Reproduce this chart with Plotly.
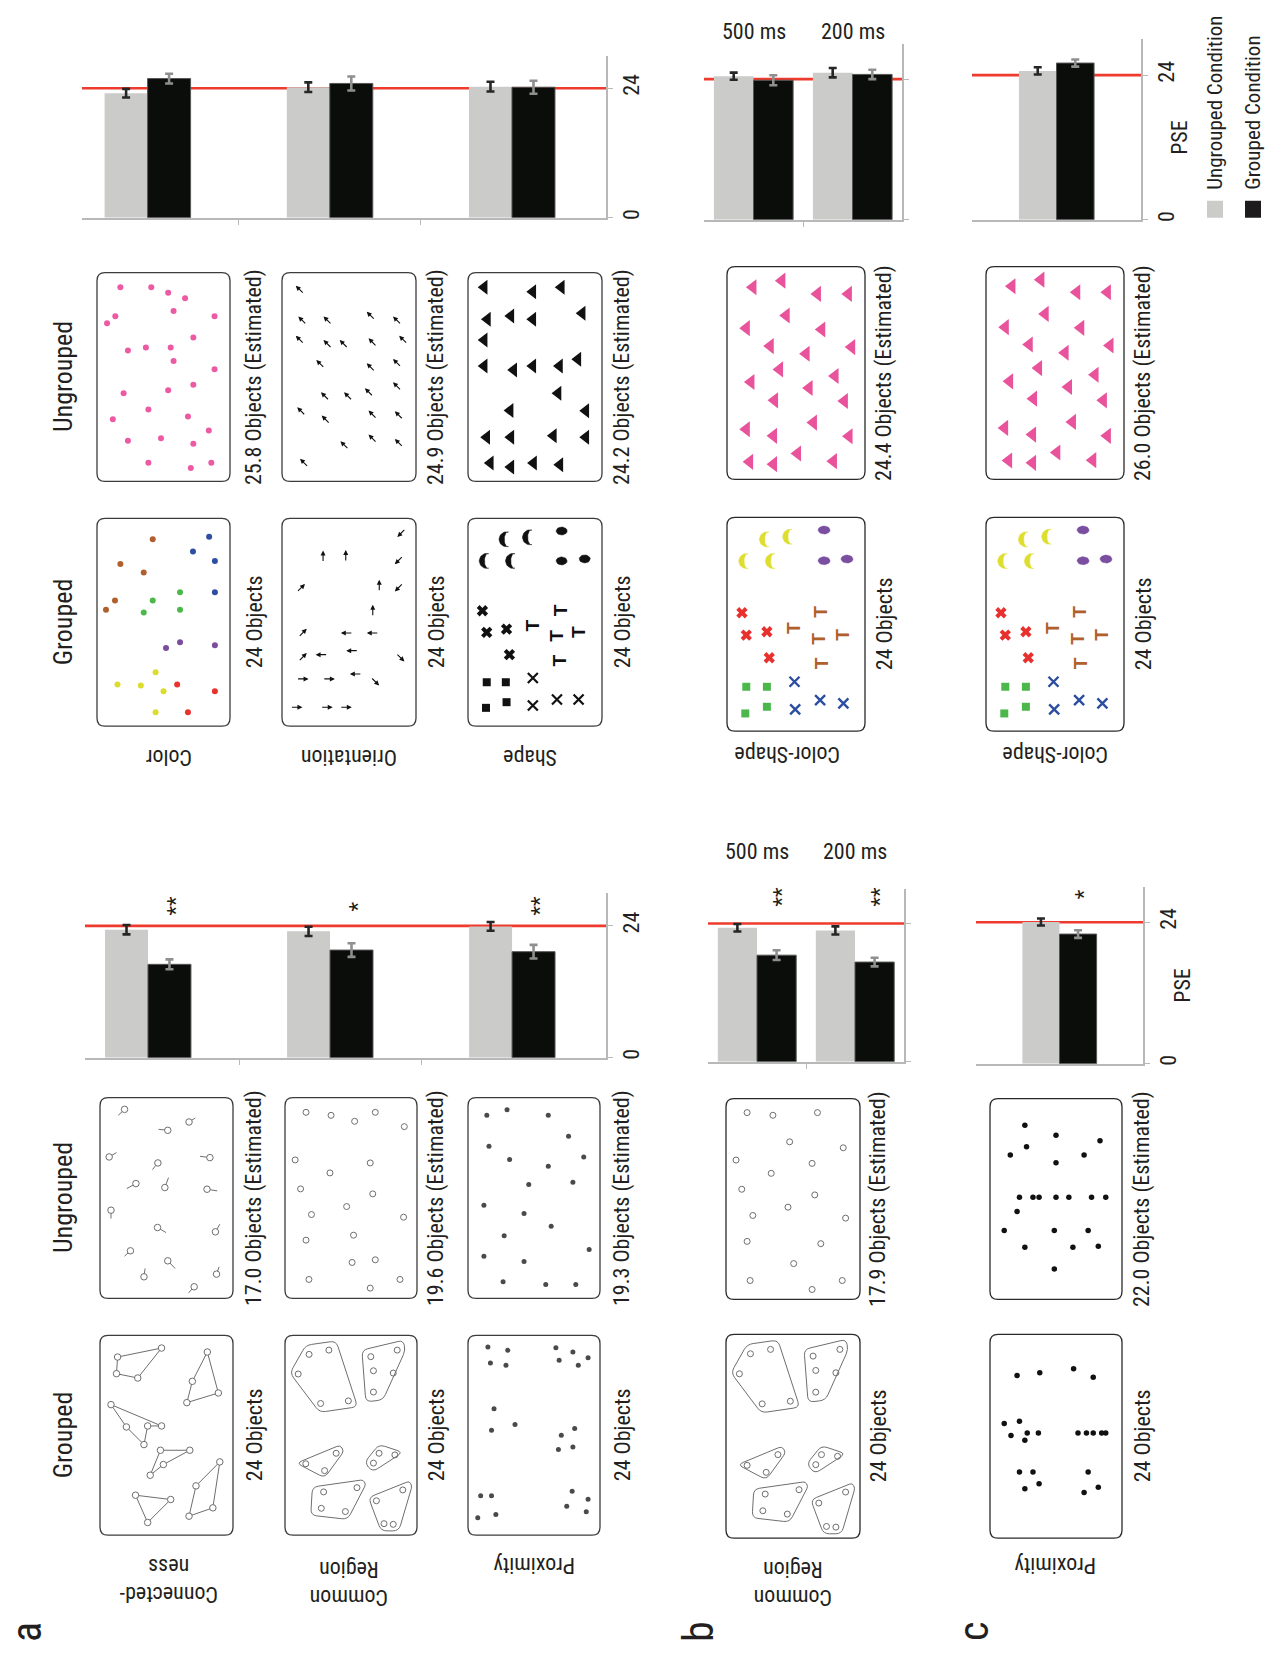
import numpy as np
import plotly.graph_objects as go

W, H = 1267, 1657
FONT = "Liberation Sans Narrow, Arial Narrow, Roboto Condensed, Liberation Sans, sans-serif"
BOLD = "Liberation Sans, DejaVu Sans, sans-serif"
TXT = "#231f20"
GREY_BAR = "#cbcbca"
BLACK_BAR = "#0b0d0b"
AXC = "#b8b8b8"
RED = "#ee3b2e"

# ---------------- bar data (PSE) ----------------
A_LEFT_CATS = ["Connectedness", "Common Region", "Proximity"]
A_LEFT_UNGROUPED = [23.3, 23.0, 23.9]
A_LEFT_UNGROUPED_ERR = [0.85, 0.85, 0.8]
A_LEFT_GROUPED = [17.0, 19.6, 19.3]
A_LEFT_GROUPED_ERR = [0.9, 1.25, 1.25]
A_LEFT_SIG = ["**", "*", "**"]

A_RIGHT_CATS = ["Color", "Orientation", "Shape"]
A_RIGHT_UNGROUPED = [23.1, 24.2, 24.3]
A_RIGHT_UNGROUPED_ERR = [0.8, 0.9, 0.9]
A_RIGHT_GROUPED = [25.8, 24.9, 24.2]
A_RIGHT_GROUPED_ERR = [0.9, 1.3, 1.2]

B_DURATIONS = ["500 ms", "200 ms"]
B_LEFT_UNGROUPED = [23.25, 22.8]
B_LEFT_UNGROUPED_ERR = [0.65, 0.7]
B_LEFT_GROUPED = [18.5, 17.3]
B_LEFT_GROUPED_ERR = [0.85, 0.75]
B_LEFT_SIG = ["**", "**"]
B_RIGHT_UNGROUPED = [24.5, 25.1]
B_RIGHT_UNGROUPED_ERR = [0.6, 0.8]
B_RIGHT_GROUPED = [23.8, 24.8]
B_RIGHT_GROUPED_ERR = [0.85, 0.8]

C_LEFT_UNGROUPED = [24.05]
C_LEFT_UNGROUPED_ERR = [0.6]
C_LEFT_GROUPED = [22.0]
C_LEFT_GROUPED_ERR = [0.65]
C_LEFT_SIG = ["*"]
C_RIGHT_UNGROUPED = [24.7]
C_RIGHT_UNGROUPED_ERR = [0.6]
C_RIGHT_GROUPED = [26.0]
C_RIGHT_GROUPED_ERR = [0.6]

REFERENCE_PSE = 24
VALUE_TICKS = [0, 24]
VALUE_MAX = 30

# ---------------- stimulus labels ----------------
A_LEFT_EST = ["17.0 Objects (Estimated)", "19.6 Objects (Estimated)", "19.3 Objects (Estimated)"]
A_RIGHT_EST = ["25.8 Objects (Estimated)", "24.9 Objects (Estimated)", "24.2 Objects (Estimated)"]
B_LEFT_EST = "17.9 Objects (Estimated)"
C_LEFT_EST = "22.0 Objects (Estimated)"
B_RIGHT_EST = "24.4 Objects (Estimated)"
C_RIGHT_EST = "26.0 Objects (Estimated)"
GROUPED_COUNT = "24 Objects"

# ---------------- stimulus item positions (read in each stimulus frame) ----------------
CONN_UNG = [(112, 67, 95, 85), (288, 105, 305, 93), (230, 130, 205, 127), (70, 210, 90, 197),
            (345, 212, 318, 208), (203, 228, 188, 248), (143, 290, 118, 305), (222, 302, 232, 272),
            (337, 307, 365, 312), (75, 370, 75, 395), (202, 422, 225, 437), (360, 435, 372, 412),
            (128, 492, 112, 508), (230, 522, 250, 545), (165, 570, 168, 545), (363, 562, 370, 540),
            (302, 600, 287, 618)]
CONN_GRP = [
    [(93, 805), (213, 778), (148, 868), (90, 855)],
    [(338, 790), (368, 913), (282, 942), (297, 878)],
    [(75, 948), (213, 1012), (175, 1012), (165, 1068), (117, 1015)],
    [(210, 1085), (290, 1085), (218, 1128), (182, 1160)],
    [(372, 1120), (353, 1258), (288, 1283), (307, 1192)],
    [(142, 1220), (238, 1233), (175, 1302)],
]
CR_A_UNG = [(606, 76), (675, 85), (740, 103), (797, 76), (877, 119), (576, 219), (783, 228), (672, 258),
            (591, 306), (790, 321), (718, 359), (621, 383), (875, 391), (737, 445), (606, 460), (733, 527),
            (797, 519), (614, 578), (783, 604), (865, 578)]
CR_B_UNG = [(138, 77), (215, 85), (348, 77), (265, 165), (425, 183), (105, 220), (332, 230), (210, 260),
            (122, 308), (340, 325), (260, 362), (155, 387), (432, 395), (138, 465), (358, 472), (277, 532),
            (147, 583), (332, 610), (422, 583)]
CR_REGIONS = [
    [(90, 860), (138, 775), (230, 762), (295, 963), (180, 980)],
    [(308, 790), (433, 760), (440, 790), (372, 942), (320, 948)],
    [(110, 1135), (242, 1080), (254, 1098), (195, 1180)],
    [(316, 1133), (360, 1078), (432, 1102), (340, 1162)],
    [(158, 1208), (312, 1186), (320, 1200), (265, 1307), (153, 1294)],
    [(328, 1240), (452, 1190), (460, 1205), (420, 1342), (366, 1342)],
]
CR_CIRCLES = [(148, 803), (208, 790), (115, 863), (183, 953), (267, 945), (335, 810), (415, 790),
              (343, 853), (403, 860), (343, 918), (138, 1137), (230, 1105), (195, 1158), (360, 1105),
              (408, 1110), (343, 1135), (192, 1223), (293, 1210), (185, 1273), (258, 1283), (352, 1250),
              (432, 1217), (375, 1320), (403, 1322)]
PROX_A_UNG = [(1102, 85), (1158, 68), (1272, 85), (1328, 148), (1108, 178), (1165, 218), (1272, 238),
              (1370, 210), (1218, 293), (1340, 286), (1094, 355), (1205, 380), (1280, 418), (1150, 447),
              (1094, 508), (1205, 524), (1385, 488), (1147, 585), (1265, 593), (1348, 593)]
PROX_A_GRP = [(1105, 775), (1160, 785), (1112, 823), (1155, 830), (1293, 777), (1340, 790), (1382, 807),
              (1302, 815), (1355, 830), (1122, 960), (1115, 1025), (1180, 1008), (1345, 1020), (1308, 1040),
              (1300, 1083), (1340, 1075), (1085, 1222), (1115, 1222), (1077, 1288), (1127, 1278),
              (1338, 1208), (1382, 1232), (1323, 1253), (1377, 1270)]
PROX_C_UNG = [(978, 115), (1070, 145), (1200, 162), (935, 205), (983, 180), (1070, 228), (1153, 205),
              (962, 332), (1002, 332), (1020, 332), (1070, 332), (1108, 332), (1175, 332), (1217, 332),
              (955, 375), (917, 432), (1065, 432), (1165, 432), (978, 483), (1120, 483), (1195, 480),
              (1065, 548)]
PROX_C_GRP = [(955, 868), (1022, 860), (1122, 848), (1180, 873), (917, 1012), (962, 1005), (937, 1048),
              (985, 1040), (1018, 1040), (978, 1062), (1135, 1040), (1160, 1040), (1180, 1040),
              (1205, 1040), (1217, 1040), (962, 1157), (1002, 1157), (1165, 1157), (978, 1207),
              (1020, 1192), (1153, 1218), (1195, 1203)]
COLOR_UNG = [(100, 72), (186, 72), (233, 88), (280, 105), (248, 143), (86, 159), (63, 180), (362, 159),
             (303, 223), (121, 262), (171, 253), (240, 253), (248, 293), (362, 318), (303, 365), (109, 390),
             (233, 381), (178, 439), (79, 468), (288, 460), (346, 502), (121, 533), (213, 525), (303, 542),
             (178, 599), (296, 615), (353, 599)]
COLOR_GRP_BROWN = [(190, 828), (100, 902), (165, 928), (85, 1012), (60, 1040)]
COLOR_GRP_BLUE = [(347, 820), (302, 865), (363, 893), (363, 987)]
COLOR_GRP_GREEN = [(266, 987), (190, 1012), (165, 1048), (266, 1040)]
COLOR_GRP_PURPLE = [(266, 1138), (227, 1155), (363, 1147)]
COLOR_GRP_YELLOW = [(198, 1228), (92, 1265), (157, 1268), (220, 1285), (198, 1348)]
COLOR_GRP_RED = [(258, 1265), (363, 1285), (288, 1348)]
OR_UNG_NW = [(598, 80), (605, 172), (675, 172), (795, 158), (868, 172), (598, 230), (675, 243), (720, 243),
             (800, 238), (885, 230), (655, 303), (795, 313), (868, 300), (668, 400), (732, 400), (790, 388),
             (868, 370), (602, 445), (670, 470), (800, 455), (873, 457), (722, 547), (800, 527), (873, 540),
             (610, 600)]
OR_GRP_SW = [(880, 808), (873, 890), (873, 972)]
OR_GRP_N = [(662, 880), (725, 878), (818, 968), (800, 1043)]
OR_GRP_NE = [(600, 975), (605, 1110), (605, 1183)]
OR_GRP_W = [(728, 1110), (800, 1110), (658, 1175), (743, 1163), (753, 1233)]
OR_GRP_SE = [(876, 1183), (806, 1255)]
OR_GRP_E = [(605, 1248), (678, 1248), (588, 1333), (672, 1333), (725, 1333)]
SH_UNG = [(1108, 72), (1243, 85), (1322, 72), (1117, 168), (1182, 158), (1243, 168), (1380, 150),
          (1108, 230), (1108, 308), (1190, 320), (1243, 308), (1317, 308), (1368, 288), (1313, 390),
          (1180, 442), (1390, 443), (1115, 522), (1182, 522), (1300, 518), (1390, 522), (1125, 600),
          (1182, 612), (1245, 600), (1318, 605)]
SH_CRESCENT = [(1170, 828), (1235, 822), (1115, 893), (1188, 893)]
SH_ELLIPSE = [(1323, 803), (1323, 893), (1387, 887)]
SH_BOLDX = [(1103, 1043), (1115, 1108), (1170, 1098), (1178, 1175)]
SH_T = [(1320, 1043), (1243, 1088), (1310, 1118), (1370, 1108), (1318, 1193)]
SH_XMARK = [(1243, 1245), (1243, 1328), (1310, 1310), (1370, 1310)]
SH_SQUARE = [(1115, 1258), (1168, 1258), (1113, 1335), (1170, 1318)]
CS_B_UNG = [(158, 70), (245, 50), (352, 90), (445, 90), (258, 155), (138, 193), (365, 197), (210, 247),
            (455, 250), (318, 270), (238, 317), (405, 337), (152, 355), (327, 373), (223, 410), (433, 412),
            (340, 477), (138, 497), (220, 517), (447, 518), (148, 595), (220, 602), (292, 570), (400, 593)]
CS_C_UNG = [(935, 67), (1022, 47), (1130, 85), (1222, 85), (1035, 150), (915, 190), (1142, 192),
            (987, 242), (1230, 245), (1095, 267), (1015, 313), (1185, 333), (928, 353), (1105, 370),
            (1000, 405), (1210, 410), (1117, 475), (913, 493), (997, 513), (1222, 517), (925, 591),
            (997, 598), (1070, 567), (1178, 590)]
CS_CRESCENT = [(200, 828), (270, 820), (138, 893), (218, 893)]
CS_ELLIPSE = [(372, 800), (372, 892), (441, 887)]
CS_BOLDX = [(125, 1048), (138, 1115), (200, 1105), (207, 1183)]
CS_T = [(363, 1045), (280, 1095), (355, 1125), (425, 1115), (365, 1200)]
CS_SQUARE = [(138, 1270), (200, 1270), (135, 1350), (200, 1330)]
CS_XMARK = [(283, 1255), (285, 1338), (360, 1310), (430, 1320)]

fig = go.Figure()
annotations = []
shapes = []


def frame_map(rx, ry, bx, by):
    def f(pts):
        xs = [bx[0] + (p[0] - rx[0]) / (rx[1] - rx[0]) * (bx[1] - bx[0]) for p in pts]
        ys = [by[0] + (p[1] - ry[0]) / (ry[1] - ry[0]) * (by[1] - by[0]) for p in pts]
        return xs, ys
    return f


def rrect(x0, x1, y0, y1, r=8, color="#3c3c3c", width=1.3):
    p = (f"M {x0+r},{y0} L {x1-r},{y0} Q {x1},{y0} {x1},{y0+r} L {x1},{y1-r} Q {x1},{y1} {x1-r},{y1} "
         f"L {x0+r},{y1} Q {x0},{y1} {x0},{y1-r} L {x0},{y0+r} Q {x0},{y0} {x0+r},{y0} Z")
    shapes.append(dict(type="path", path=p, xref="x", yref="y", line=dict(color=color, width=width),
                       fillcolor="rgba(0,0,0,0)", layer="below"))


def rpoly(xs, ys, r=5, color="#777", width=1.0):
    n = len(xs)
    pts = [np.array([xs[i], ys[i]]) for i in range(n)]
    segs = []
    for i in range(n):
        p0, p1, p2 = pts[i - 1], pts[i], pts[(i + 1) % n]
        d1, d2 = p0 - p1, p2 - p1
        l1, l2 = np.linalg.norm(d1), np.linalg.norm(d2)
        rr = min(r, l1 / 2, l2 / 2)
        segs.append((p1 + d1 / l1 * rr, p1, p1 + d2 / l2 * rr))
    path = f"M {segs[0][0][0]:.2f},{segs[0][0][1]:.2f}"
    for i, (a, c, b) in enumerate(segs):
        if i > 0:
            path += f" L {a[0]:.2f},{a[1]:.2f}"
        path += f" Q {c[0]:.2f},{c[1]:.2f} {b[0]:.2f},{b[1]:.2f}"
    path += " Z"
    shapes.append(dict(type="path", path=path, xref="x", yref="y", line=dict(color=color, width=width),
                       fillcolor="rgba(0,0,0,0)"))


def markers(xs, ys, symbol="circle", size=6, color="black", line_color=None, line_width=0):
    fig.add_trace(go.Scatter(x=xs, y=ys, mode="markers", xaxis="x", yaxis="y", hoverinfo="skip",
                             marker=dict(symbol=symbol, size=size, color=color,
                                         line=dict(color=line_color or color, width=line_width))))


def open_circles(xs, ys, size=6.5, color="#6e6e6e"):
    markers(xs, ys, "circle", size, "white", color, 1.0)


def crescents(xs, ys, R, color):
    px, py = [], []
    t1 = np.linspace(np.pi * 0.42, np.pi * 1.58, 24)
    for cx, cy in zip(xs, ys):
        ox = cx + R * np.cos(t1)
        oy = cy + R * np.sin(t1)
        ix = cx + 0.15 * R + 0.45 * R * np.cos(t1[::-1])
        iy = cy + R * np.sin(t1[::-1])
        px += list(ox) + list(ix) + [None]
        py += list(oy) + list(iy) + [None]
    fig.add_trace(go.Scatter(x=px, y=py, mode="lines", fill="toself", fillcolor=color, xaxis="x", yaxis="y",
                             line=dict(color=color, width=0.5), hoverinfo="skip"))


def ellipses(xs, ys, a, b, color):
    px, py = [], []
    t = np.linspace(0, 2 * np.pi, 30)
    for cx, cy in zip(xs, ys):
        px += list(cx + a * np.cos(t)) + [None]
        py += list(cy + b * np.sin(t)) + [None]
    fig.add_trace(go.Scatter(x=px, y=py, mode="lines", fill="toself", fillcolor=color, xaxis="x", yaxis="y",
                             line=dict(color=color, width=0.5), hoverinfo="skip"))


def rot_text(x, y, text, size=22, angle=-90, xanchor="center", yanchor="middle", family=FONT, color=TXT,
             xref="x", yref="y"):
    annotations.append(dict(x=x, y=y, xref=xref, yref=yref, text=text, showarrow=False, textangle=angle,
                            xanchor=xanchor, yanchor=yanchor,
                            font=dict(size=size, family=family, color=color)))


def arrows(xs, ys, d, L=12):
    dx, dy = d
    n = (dx * dx + dy * dy) ** 0.5
    dx, dy = dx / n, dy / n
    for x, y in zip(xs, ys):
        annotations.append(dict(x=x + dx * L / 2, y=y + dy * L / 2, ax=x - dx * L / 2, ay=y - dy * L / 2,
                                xref="x", yref="y", axref="x", ayref="y", text="", showarrow=True,
                                arrowhead=2, arrowsize=0.9, arrowwidth=1.1, arrowcolor="#111",
                                standoff=0, startstandoff=0))


def t_marks(xs, ys, color, size=19):
    for x, y in zip(xs, ys):
        rot_text(x, y, "<b>T</b>", size=size, family=BOLD, color=color)


# ---------------- stimulus boxes ----------------
A_LEFT_X = [(100, 233), (285, 417), (468, 600)]
A_LEFT_Y = {"ung": (1099, 1300), "grp": (1337, 1537)}
A_RIGHT_X = [(97, 230), (282, 416), (468, 602)]
A_RIGHT_Y = {"ung": (273, 482), "grp": (519, 727)}
BC_LEFT_X = {"b": (726, 860), "c": (990, 1122)}
BC_LEFT_Y = {"ung": (1100, 1301), "grp": (1336, 1540)}
BC_RIGHT_X = {"b": (727, 865), "c": (986, 1124)}
BC_RIGHT_Y = {"ung": (267, 480), "grp": (518, 732)}

Z5X = [(45, 408), (548, 912), (1050, 1415)]
Z5Y = {"ung": (32, 635), "grp": (740, 1340)}
Z6X = [(35, 405), (548, 920), (1063, 1435)]
Z6Y = {"ung": (28, 655), "grp": (765, 1390)}
Z8X = {"b": (75, 475), "c": (875, 1265)}
Z8Y = {"ung": (35, 640), "grp": (745, 1355)}
Z7X = {"b": (80, 495), "c": (857, 1272)}
Z7Y = {"ung": (8, 648), "grp": (762, 1403)}

for bx in A_LEFT_X:
    for by in A_LEFT_Y.values():
        rrect(bx[0], bx[1], by[0], by[1])
for bx in A_RIGHT_X:
    for by in A_RIGHT_Y.values():
        rrect(bx[0], bx[1], by[0], by[1])
for bx in BC_LEFT_X.values():
    for by in BC_LEFT_Y.values():
        rrect(bx[0], bx[1], by[0], by[1], color="#2a2a2a")
for bx in BC_RIGHT_X.values():
    for by in BC_RIGHT_Y.values():
        rrect(bx[0], bx[1], by[0], by[1], color="#2a2a2a")

# --- a-left: connectedness ---
m = frame_map(Z5X[0], Z5Y["ung"], A_LEFT_X[0], A_LEFT_Y["ung"])
cx, cy = m([(c[0], c[1]) for c in CONN_UNG])
sx, sy = m([(c[2], c[3]) for c in CONN_UNG])
lx, ly = [], []
for a, b, c, d in zip(cx, cy, sx, sy):
    lx += [a, c, None]
    ly += [b, d, None]
fig.add_trace(go.Scatter(x=lx, y=ly, mode="lines", line=dict(color="#6e6e6e", width=1), xaxis="x", yaxis="y",
                         hoverinfo="skip"))
open_circles(cx, cy)
m = frame_map(Z5X[0], Z5Y["grp"], A_LEFT_X[0], A_LEFT_Y["grp"])
lx, ly, nx, ny = [], [], [], []
for grp in CONN_GRP:
    gx, gy = m(grp)
    lx += gx + [gx[0], None]
    ly += gy + [gy[0], None]
    nx += gx
    ny += gy
fig.add_trace(go.Scatter(x=lx, y=ly, mode="lines", line=dict(color="#6e6e6e", width=1), xaxis="x", yaxis="y",
                         hoverinfo="skip"))
open_circles(nx, ny)

# --- common region (a-left and b-left) ---
m = frame_map(Z5X[1], Z5Y["ung"], A_LEFT_X[1], A_LEFT_Y["ung"])
open_circles(*m(CR_A_UNG), size=6)
for bx, by in [(A_LEFT_X[1], A_LEFT_Y["grp"]), (BC_LEFT_X["b"], BC_LEFT_Y["grp"])]:
    m = frame_map(Z8X["b"], Z8Y["grp"], bx, by)
    for reg in CR_REGIONS:
        rpoly(*m(reg), r=6, color="#6e6e6e", width=1)
    open_circles(*m(CR_CIRCLES), size=6)
m = frame_map(Z8X["b"], Z8Y["ung"], BC_LEFT_X["b"], BC_LEFT_Y["ung"])
open_circles(*m(CR_B_UNG), size=6)

# --- a-left: proximity ---
m = frame_map(Z5X[2], Z5Y["ung"], A_LEFT_X[2], A_LEFT_Y["ung"])
markers(*m(PROX_A_UNG), size=5, color="#4a4a4a")
m = frame_map(Z5X[2], Z5Y["grp"], A_LEFT_X[2], A_LEFT_Y["grp"])
markers(*m(PROX_A_GRP), size=5, color="#4a4a4a")

# --- c-left: proximity ---
m = frame_map(Z8X["c"], Z8Y["ung"], BC_LEFT_X["c"], BC_LEFT_Y["ung"])
markers(*m(PROX_C_UNG), size=5.5, color="#111")
m = frame_map(Z8X["c"], Z8Y["grp"], BC_LEFT_X["c"], BC_LEFT_Y["grp"])
markers(*m(PROX_C_GRP), size=5.5, color="#111")

# --- a-right: color ---
m = frame_map(Z6X[0], Z6Y["ung"], A_RIGHT_X[0], A_RIGHT_Y["ung"])
markers(*m(COLOR_UNG), size=6, color="#ec5aa4")
m = frame_map(Z6X[0], Z6Y["grp"], A_RIGHT_X[0], A_RIGHT_Y["grp"])
for pts, col in [(COLOR_GRP_BROWN, "#b0602e"), (COLOR_GRP_BLUE, "#2d4ea3"), (COLOR_GRP_GREEN, "#4cb84a"),
                 (COLOR_GRP_PURPLE, "#7b4d9f"), (COLOR_GRP_YELLOW, "#dcdc2c"), (COLOR_GRP_RED, "#e8322c")]:
    markers(*m(pts), size=6, color=col)

# --- a-right: orientation ---
m = frame_map(Z6X[1], Z6Y["ung"], A_RIGHT_X[1], A_RIGHT_Y["ung"])
arrows(*m(OR_UNG_NW), (-1, -1))
m = frame_map(Z6X[1], Z6Y["grp"], A_RIGHT_X[1], A_RIGHT_Y["grp"])
for pts, d in [(OR_GRP_SW, (-1, 1)), (OR_GRP_N, (0, -1)), (OR_GRP_NE, (1, -1)), (OR_GRP_W, (-1, 0)),
               (OR_GRP_SE, (1, 1)), (OR_GRP_E, (1, 0))]:
    arrows(*m(pts), d)

# --- a-right: shape ---
m = frame_map(Z6X[2], Z6Y["ung"], A_RIGHT_X[2], A_RIGHT_Y["ung"])
markers(*m(SH_UNG), symbol="triangle-left", size=13, color="#111")
m = frame_map(Z6X[2], Z6Y["grp"], A_RIGHT_X[2], A_RIGHT_Y["grp"])
crescents(*m(SH_CRESCENT), 7.5, "#111")
ellipses(*m(SH_ELLIPSE), 5.5, 4.0, "#111")
markers(*m(SH_BOLDX), symbol="x", size=10, color="#111")
t_marks(*m(SH_T), "#111")
markers(*m(SH_XMARK), symbol="x-thin-open", size=10, color="#111", line_width=2.2)
markers(*m(SH_SQUARE), symbol="square", size=8, color="#111")

# --- b-right / c-right: color-shape ---
m = frame_map(Z7X["b"], Z7Y["ung"], BC_RIGHT_X["b"], BC_RIGHT_Y["ung"])
markers(*m(CS_B_UNG), symbol="triangle-left", size=14, color="#e8539b")
m = frame_map(Z7X["c"], Z7Y["ung"], BC_RIGHT_X["c"], BC_RIGHT_Y["ung"])
markers(*m(CS_C_UNG), symbol="triangle-left", size=14, color="#e8539b")
for key in ["b", "c"]:
    m = frame_map(Z7X["b"], Z7Y["grp"], BC_RIGHT_X[key], BC_RIGHT_Y["grp"])
    crescents(*m(CS_CRESCENT), 7.5, "#dede30")
    ellipses(*m(CS_ELLIPSE), 6.0, 4.0, "#7b4fa0")
    markers(*m(CS_BOLDX), symbol="x", size=10, color="#e8302e")
    t_marks(*m(CS_T), "#b0602a")
    markers(*m(CS_XMARK), symbol="x-thin-open", size=10, color="#2c4ea0", line_width=2.4)
    markers(*m(CS_SQUARE), symbol="square", size=8, color="#4cb84c")

# ---------------- stimulus texts ----------------
A_TEXT_X = [254, 436, 622]
for i in range(3):
    rot_text(A_TEXT_X[i], sum(A_LEFT_Y["ung"]) / 2, A_LEFT_EST[i])
    rot_text(A_TEXT_X[i], sum(A_LEFT_Y["grp"]) / 2, GROUPED_COUNT)
    rot_text(A_TEXT_X[i], sum(A_RIGHT_Y["ung"]) / 2, A_RIGHT_EST[i])
    rot_text(A_TEXT_X[i], sum(A_RIGHT_Y["grp"]) / 2, GROUPED_COUNT)
rot_text(878, sum(BC_LEFT_Y["ung"]) / 2, B_LEFT_EST)
rot_text(878, sum(BC_LEFT_Y["grp"]) / 2, GROUPED_COUNT)
rot_text(1142, sum(BC_LEFT_Y["ung"]) / 2, C_LEFT_EST)
rot_text(1142, sum(BC_LEFT_Y["grp"]) / 2, GROUPED_COUNT)
rot_text(884, sum(BC_RIGHT_Y["ung"]) / 2, B_RIGHT_EST)
rot_text(884, sum(BC_RIGHT_Y["grp"]) / 2, GROUPED_COUNT)
rot_text(1143, sum(BC_RIGHT_Y["ung"]) / 2, C_RIGHT_EST)
rot_text(1143, sum(BC_RIGHT_Y["grp"]) / 2, GROUPED_COUNT)

# column headers (panel a)
for yy, t in [(sum(A_LEFT_Y["grp"]) / 2, "Grouped"), (sum(A_LEFT_Y["ung"]) / 2, "Ungrouped"),
              (sum(A_RIGHT_Y["grp"]) / 2, "Grouped"), (sum(A_RIGHT_Y["ung"]) / 2, "Ungrouped")]:
    rot_text(63, yy, t, size=26)

# row labels (upside down)
ROW_LABELS = [(169, 1582, "Connected-<br>ness"), (349, 1585, "Common<br>Region"), (534, 1568, "Proximity"),
              (169, 759, "Color"), (349, 759, "Orientation"), (530, 759, "Shape"),
              (793, 1585, "Common<br>Region"), (787, 756, "Color-Shape"),
              (1055, 1568, "Proximity"), (1055, 756, "Color-Shape")]
for x, y, t in ROW_LABELS:
    rot_text(x, y, t, size=22, angle=180)

# panel letters
for x, y, t in [(26, 1634, "a"), (698, 1634, "b"), (973, 1634, "c")]:
    rot_text(x, y, t, size=42)


# ---------------- bar charts ----------------
def add_chart(n, ung, ung_err, grp, grp_err, px_x, px_y, xr, bw, seps, labels, sig=None, sig_y=28.0, sig_dx=0.15):
    xs = list(range(len(ung)))
    xa, ya = f"x{n}", f"y{n}"
    fig.add_trace(go.Bar(x=[i - bw / 2 for i in xs], y=ung, width=bw, xaxis=xa, yaxis=ya, hoverinfo="skip",
                         marker=dict(color=GREY_BAR, line=dict(width=0)),
                         error_y=dict(type="data", array=ung_err, color="#262626", thickness=2.6, width=4)))
    fig.add_trace(go.Bar(x=[i + bw / 2 for i in xs], y=grp, width=bw, xaxis=xa, yaxis=ya, hoverinfo="skip",
                         marker=dict(color=BLACK_BAR, line=dict(color="#555", width=1)),
                         error_y=dict(type="data", array=grp_err, color="#8f8f8f", thickness=2.6, width=4)))
    fig.update_layout({
        f"xaxis{n}": dict(domain=[px_x[0] / W, px_x[1] / W], range=xr, anchor=ya, showline=True, linecolor=AXC,
                          linewidth=1.5, tickvals=seps, ticks="outside" if seps else "", ticklen=6,
                          tickcolor=AXC, showticklabels=False, showgrid=False, zeroline=False, fixedrange=True),
        f"yaxis{n}": dict(domain=[1 - px_y[1] / H, 1 - px_y[0] / H], range=[0, VALUE_MAX], anchor=xa,
                          side="right", showline=True, linecolor=AXC, linewidth=1.5, tickvals=VALUE_TICKS,
                          ticktext=[str(v) for v in VALUE_TICKS], ticks="outside", ticklen=5, tickcolor=AXC,
                          showticklabels=labels, tickangle=-90, tickfont=dict(size=22, family=FONT, color=TXT),
                          showgrid=False, zeroline=False, fixedrange=True),
    })
    shapes.append(dict(type="line", xref=f"{xa} domain", yref=ya, x0=0, x1=1, y0=REFERENCE_PSE,
                       y1=REFERENCE_PSE, line=dict(color=RED, width=2.6), layer="below"))
    if sig:
        for i, s in enumerate(sig):
            rot_text(i + sig_dx, sig_y, s, size=22, xref=xa, yref=ya)


add_chart(2, A_LEFT_UNGROUPED, A_LEFT_UNGROUPED_ERR, A_LEFT_GROUPED, A_LEFT_GROUPED_ERR,
          (85, 606), (894, 1059), [-0.346, 2.516], 0.236, [0.5, 1.5], True, A_LEFT_SIG, 27.6, 0.15)
add_chart(3, A_RIGHT_UNGROUPED, A_RIGHT_UNGROUPED_ERR, A_RIGHT_GROUPED, A_RIGHT_GROUPED_ERR,
          (82, 606), (56, 218), [-0.36, 2.516], 0.236, [0.5, 1.5], True)
add_chart(4, B_LEFT_UNGROUPED, B_LEFT_UNGROUPED_ERR, B_LEFT_GROUPED, B_LEFT_GROUPED_ERR,
          (708, 904), (890, 1063), [-0.5, 1.5], 0.4, [0.5], False, B_LEFT_SIG, 28.6, 0.25)
add_chart(5, B_RIGHT_UNGROUPED, B_RIGHT_UNGROUPED_ERR, B_RIGHT_GROUPED, B_RIGHT_GROUPED_ERR,
          (704, 902), (44, 220), [-0.5, 1.5], 0.4, [0.5], False)
add_chart(6, C_LEFT_UNGROUPED, C_LEFT_UNGROUPED_ERR, C_LEFT_GROUPED, C_LEFT_GROUPED_ERR,
          (976, 1143), (888, 1065), [-0.9, 0.9], 0.4, [], True, C_LEFT_SIG, 28.7, 0.26)
add_chart(7, C_RIGHT_UNGROUPED, C_RIGHT_UNGROUPED_ERR, C_RIGHT_GROUPED, C_RIGHT_GROUPED_ERR,
          (972, 1141), (39, 220), [-0.9, 0.9], 0.4, [], True)

# duration labels above panel b charts
for i, t in enumerate(B_DURATIONS):
    rot_text(i, 1.13, t, size=22, angle=0, yanchor="bottom", xref="x4", yref="y4 domain")
    rot_text(i, 0.99, t, size=22, angle=0, yanchor="bottom", xref="x5", yref="y5 domain")

# PSE axis titles
rot_text(1183, 987, "PSE", size=22)
rot_text(1180, 138, "PSE", size=22)

# legend
LEGEND = [("Ungrouped Condition", GREY_BAR, 1215), ("Grouped Condition", "#1d1b1c", 1253)]
for t, col, x in LEGEND:
    shapes.append(dict(type="rect", xref="x", yref="y", x0=x - 8, x1=x + 8, y0=201, y1=218,
                       fillcolor=col, line=dict(width=0)))
    rot_text(x, 192, t, size=21, yanchor="bottom")

fig.update_layout(
    width=W, height=H, margin=dict(l=0, r=0, t=0, b=0), paper_bgcolor="white", plot_bgcolor="rgba(0,0,0,0)",
    showlegend=False, barmode="overlay",
    xaxis=dict(range=[0, W], domain=[0, 1], visible=False, fixedrange=True),
    yaxis=dict(range=[H, 0], domain=[0, 1], visible=False, fixedrange=True),
    annotations=annotations, shapes=shapes, font=dict(family=FONT, color=TXT),
)
fig.write_html("out.html", config={"displayModeBar": False},
               post_script="document.body.style.margin='0px';document.body.style.overflow='hidden';")
